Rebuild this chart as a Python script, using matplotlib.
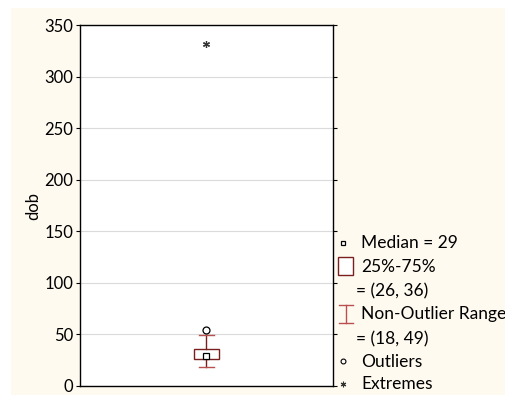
import matplotlib
matplotlib.use('Agg')
import matplotlib.pyplot as plt
from matplotlib.patches import Rectangle
from matplotlib.lines import Line2D

plt.rcParams['font.family'] = ['Lato', 'DejaVu Sans']

# box plot summary for dob
VAR_NAME = 'dob'
MEDIAN = 29
Q1, Q3 = 26, 36
WHIS_LO, WHIS_HI = 18, 49
OUTLIERS = [54]
EXTREMES = [332]
Y_TICKS = [0, 50, 100, 150, 200, 250, 300, 350]

CREAM = '#FFFAF0'
BOX_RED = '#7A1F1F'
CAP_RED = '#B85050'

W, H = 506, 395
fig = plt.figure(figsize=(W / 100, H / 100), dpi=100)
fig.patch.set_facecolor('white')


def fx(px):
    return px / W


def fy(py):
    return 1 - py / H


# cream background panel
fig.add_artist(Rectangle((fx(11), 0), 1 - fx(11), fy(8), transform=fig.transFigure,
                         facecolor=CREAM, edgecolor='none', zorder=-10))

ax = fig.add_axes([fx(80), fy(386), fx(333) - fx(80), fy(25) - fy(386)])
ax.set_facecolor('white')

stats = [{'med': MEDIAN, 'q1': Q1, 'q3': Q3, 'whislo': WHIS_LO, 'whishi': WHIS_HI,
          'fliers': []}]
ax.bxp(stats, positions=[1], widths=0.1, showfliers=False, patch_artist=True,
       boxprops=dict(facecolor='white', edgecolor=BOX_RED, linewidth=1.0),
       whiskerprops=dict(color=BOX_RED, linewidth=1.0),
       capprops=dict(color=CAP_RED, linewidth=1.0),
       medianprops=dict(linewidth=0), capwidths=0.06)
ax.plot([1], [MEDIAN], marker='s', ms=5, mfc='white', mec='black', mew=0.9, zorder=5)
ax.plot([1] * len(OUTLIERS), OUTLIERS, marker='o', ms=5, mfc='white', mec='black',
        mew=0.9, ls='none', zorder=5)
ax.plot([1] * len(EXTREMES), EXTREMES, marker=(6, 2, 0), ms=5, color='#333333',
        mew=0.9, ls='none', zorder=5)

ax.set_xlim(0.5, 1.5)
ax.set_ylim(0, 350)
ax.set_yticks(Y_TICKS)
ax.set_xticks([])
ax.yaxis.grid(True, color='#DADADA', linewidth=0.8)
ax.set_axisbelow(True)
ax.tick_params(axis='y', direction='out', length=3, labelsize=12, right=True,
               width=0.8, pad=2)
ax.set_ylabel(VAR_NAME, fontsize=12, labelpad=2)
for s in ax.spines.values():
    s.set_linewidth(1.0)
    s.set_color('black')

# legend drawn by hand at right of the plot
fs = 12.5
tx = fx(361)
fig.add_artist(Line2D([fx(343)], [fy(243)], marker='s', ms=3.5, mfc='white', mec='black',
                      mew=0.9, transform=fig.transFigure))
fig.text(tx, fy(243), f'Median = {MEDIAN}', fontsize=fs, va='center')
fig.add_artist(Rectangle((fx(338), fy(275)), fx(353) - fx(338), fy(257) - fy(275),
                         transform=fig.transFigure, facecolor='white', edgecolor=BOX_RED,
                         linewidth=1.0))
fig.text(tx, fy(267), '25%-75%', fontsize=fs, va='center')
fig.text(fx(356), fy(291), f'= ({Q1}, {Q3})', fontsize=fs, va='center')
fig.add_artist(Line2D([fx(346), fx(346)], [fy(305), fy(323)], color=CAP_RED, lw=1.0,
                      transform=fig.transFigure))
for yy in (305, 323):
    fig.add_artist(Line2D([fx(339), fx(353)], [fy(yy), fy(yy)], color=CAP_RED, lw=1.0,
                          transform=fig.transFigure))
fig.text(tx, fy(314), 'Non-Outlier Range', fontsize=fs, va='center')
fig.text(fx(356), fy(339), f'= ({WHIS_LO}, {WHIS_HI})', fontsize=fs, va='center')
fig.add_artist(Line2D([fx(343)], [fy(361)], marker='o', ms=3.5, mfc='white', mec='black',
                      mew=0.8, transform=fig.transFigure))
fig.text(tx, fy(362), 'Outliers', fontsize=fs, va='center')
fig.add_artist(Line2D([fx(343)], [fy(384)], marker=(6, 2, 0), ms=4, color='#333333',
                      mew=0.8, transform=fig.transFigure))
fig.text(tx, fy(384), 'Extremes', fontsize=fs, va='center')

fig.savefig('out.png', dpi=100, facecolor=fig.get_facecolor())
